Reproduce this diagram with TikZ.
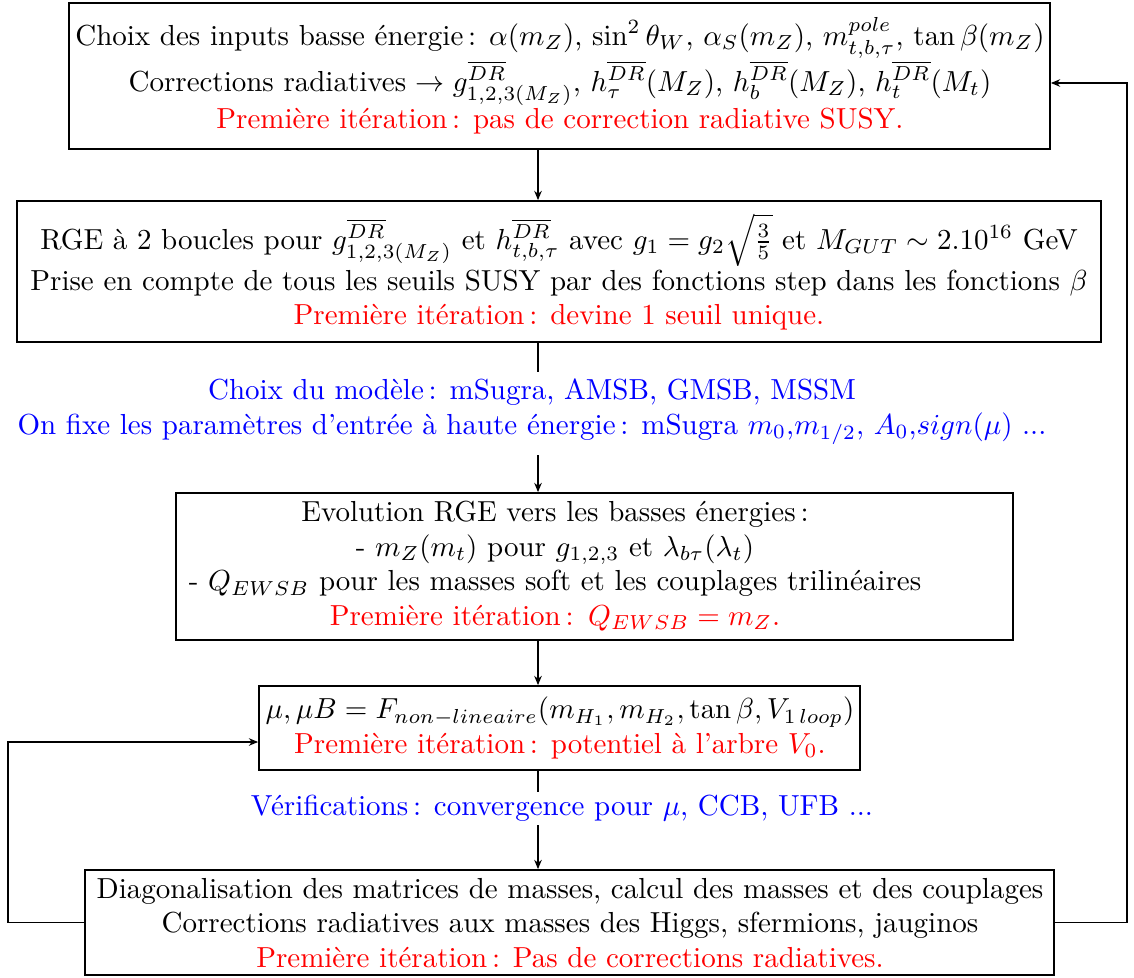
\documentclass[tikz,border=0pt]{standalone}
\usetikzlibrary{fit,arrows.meta}
\begin{document}
\begin{tikzpicture}[x=0.345pt,y=-0.345pt,
  box/.style={draw,line width=0.6pt,inner sep=0pt},
  txt/.style={align=center,inner sep=0pt},
  conn/.style={line width=0.6pt},
  arr/.style={line width=0.6pt,-{Stealth[length=3.2pt,width=2.6pt]}}]
\useasboundingbox (0,0) rectangle (1134,978);
\coordinate (spine) at (538,0);
\coordinate (c1) at (538,372);
\coordinate (c2) at (538,455);
\coordinate (c3) at (538,792);
\coordinate (c4) at (538,825);
\coordinate (lft) at (8,742);
\coordinate (rgt) at (1127,83);
% boxes
\node[box,fit={(69,3) (1050,149)}] (b1) {};
\node[box,fit={(17,201) (1101,342)}] (b2) {};
\node[box,fit={(176,493) (1013,640)}] (b3) {};
\node[box,fit={(259,686) (860,770)}] (b4) {};
\node[box,fit={(85,870) (1054,975)}] (b5) {};
% texts
\node[txt] (t1) at (560,76) {Choix des inputs basse énergie\,: $\alpha(m_Z)$, $\sin^2\theta_W$, $\alpha_S(m_Z)$, $m_{t,b,\tau}^{pole}$, $\tan\beta(m_Z)$\\
Corrections radiatives $\rightarrow g^{\overline{DR}}_{1,2,3(M_Z)}$, $h^{\overline{DR}}_\tau(M_Z)$, $h^{\overline{DR}}_b(M_Z)$, $h^{\overline{DR}}_t(M_t)$\\
\textcolor{red}{Première itération\,: pas de correction radiative SUSY.}};
\node[txt] (t2) at (559,272) {RGE à 2 boucles pour $g^{\overline{DR}}_{1,2,3(M_Z)}$ et $h^{\overline{DR}}_{t,b,\tau}$ avec $g_1=g_2\sqrt{\frac{3}{5}}$ et $M_{GUT}\sim 2.10^{16}$ GeV\\
Prise en compte de tous les seuils SUSY par des fonctions step dans les fonctions $\beta$\\
\textcolor{red}{Première itération\,: devine 1 seuil unique.}};
\node[txt,text=blue] (m1) at (532,412) {Choix du modèle\,: mSugra, AMSB, GMSB, MSSM\\
On fixe les paramètres d'entrée à haute énergie\,: mSugra $m_0$,$m_{1/2}$, $A_0$,$sign(\mu)$ ...};
\node[txt,text width=256.7pt] (t3) at (555,566) {\mbox{Evolution RGE vers les basses énergies\,:}\\
\mbox{- $m_Z(m_t)$ pour $g_{1,2,3}$ et $\lambda_{b\tau}(\lambda_t)$}\\
\mbox{- $Q_{EWSB}$ pour les masses soft et les couplages trilinéaires}\\
\mbox{\textcolor{red}{Première itération\,: $Q_{EWSB}=m_Z$.}}};
\node[txt] (t4) at (560,728) {$\mu,\mu B=F_{non-lineaire}(m_{H_1},m_{H_2},\tan\beta,V_{1\,loop})$\\
\textcolor{red}{Première itération\,: potentiel à l'arbre $V_0$.}};
\node[txt,text=blue] (v1) at (562,808) {Vérifications\,: convergence pour $\mu$, CCB, UFB ...};
\node[txt] (t5) at (570,923) {Diagonalisation des matrices de masses, calcul des masses et des couplages\\
Corrections radiatives aux masses des Higgs, sfermions, jauginos\\
\textcolor{red}{Première itération\,: Pas de corrections radiatives.}};
% connectors
\draw[arr] (b1.south -| spine) -- (b2.north -| spine);
\draw[conn] (b2.south -| spine) -- (c1);
\draw[arr] (c2) -- (b3.north -| spine);
\draw[arr] (b3.south -| spine) -- (b4.north -| spine);
\draw[conn] (b4.south -| spine) -- (c3);
\draw[arr] (c4) -- (b5.north -| spine);
\draw[arr] (b5.west) -| (lft) -- (b4.west |- lft);
\draw[arr] (b5.east) -| (rgt) -- (b1.east |- rgt);
\end{tikzpicture}
\end{document}
